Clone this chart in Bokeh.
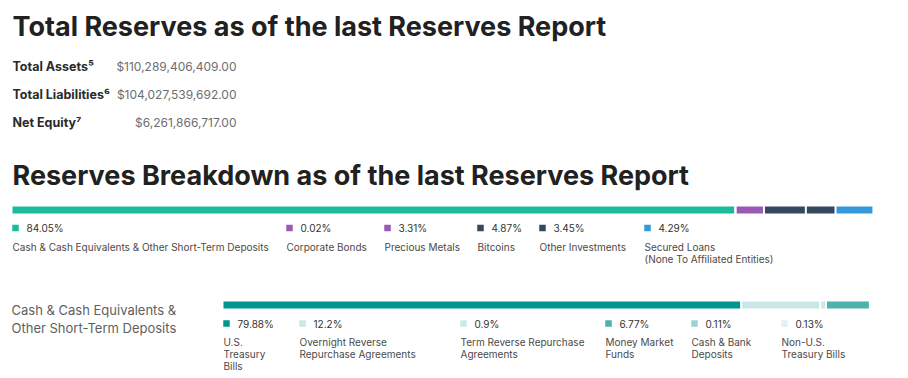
import numpy as np
from bokeh.plotting import figure
from bokeh.models import Range1d
from bokeh.core.properties import value
from bokeh.embed import file_html
from bokeh.resources import INLINE

# ---------------- data ----------------
title_main = "Total Reserves as of the last Reserves Report"
title_breakdown = "Reserves Breakdown as of the last Reserves Report"

summary_labels = ["Total Assets\u2075", "Total Liabilities\u2076", "Net Equity\u2077"]
summary_values = ["$110,289,406,409.00", "$104,027,539,692.00", "$6,261,866,717.00"]

reserve_categories = [
    "Cash & Cash Equivalents & Other Short-Term Deposits",
    "Corporate Bonds",
    "Precious Metals",
    "Bitcoins",
    "Other Investments",
    "Secured Loans\n(None To Affiliated Entities)",
]
reserve_pcts = [84.05, 0.02, 3.31, 4.87, 3.45, 4.29]

cash_title = "Cash & Cash Equivalents &\nOther Short-Term Deposits"
cash_categories = [
    "U.S.\nTreasury\nBills",
    "Overnight Reverse\nRepurchase Agreements",
    "Term Reverse Repurchase\nAgreements",
    "Money Market\nFunds",
    "Cash & Bank\nDeposits",
    "Non-U.S.\nTreasury Bills",
]
cash_pcts = [79.88, 12.2, 0.9, 6.77, 0.11, 0.13]

# ---------------- styles / layout ----------------
reserve_colors = ["#1abc9c", "#9b59b6", "#9b59b6", "#34495e", "#34495e", "#3498db"]
cash_colors = ["#00968f", "#c9e7e7", "#cce8e8", "#4db2ae", "#99d3d1", "#e0f2f2"]

FONT = value("Inter")
W, H = 906, 376
OX, OY = 0, 0  # page offset of the figure

reserve_cols = [12, 286, 384, 477, 539, 644]
cash_cols = [223, 299, 460, 605, 691, 781]

p = figure(width=W, height=H, output_backend="svg", toolbar_location=None,
           x_range=Range1d(OX, OX + W), y_range=Range1d(OY + H, OY),
           x_axis_location=None, y_axis_location=None, min_border=0,
           outline_line_color=None, background_fill_color="white",
           border_fill_color="white")
p.xgrid.visible = False
p.ygrid.visible = False


def pct_range(x0, scale):
    a = -(x0 - OX) / scale
    return Range1d(a, a + W / scale)


p.extra_x_ranges = {"top": pct_range(12, 8.6), "cash": pct_range(223, 6.48)}

# ---------------- titles ----------------
p.text(x=[12], y=[26], text=[title_main], text_font=FONT, text_font_size="27px",
       text_font_style="bold", text_color="#212121", text_baseline="alphabetic")
p.text(x=[12], y=[175], text=[title_breakdown], text_font=FONT, text_font_size="27px",
       text_font_style="bold", text_color="#212121", text_baseline="alphabetic")

# summary rows
rows_y = [66, 94, 122]
p.text(x=[12] * 3, y=rows_y, text=summary_labels, text_font=FONT, text_font_size="12.5px",
       text_font_style="bold", text_color="#2a2a2a", text_baseline="alphabetic")
p.text(x=[236] * 3, y=rows_y, text=summary_values, text_font=FONT, text_font_size="12px",
       text_color="#6e6e6e", text_baseline="alphabetic", text_align="right")


# ---------------- stacked bars ----------------
def stacked(vals, colors, rng, yc, h):
    v = np.array(vals, dtype=float)
    ends = np.cumsum(v)
    starts = ends - v
    p.hbar(y=[yc] * len(v), left=starts, right=ends, height=h, fill_color=colors,
           line_color=None, x_range_name=rng)
    p.segment(x0=ends[:-1], x1=ends[:-1], y0=[yc - h] * (len(v) - 1),
              y1=[yc + h] * (len(v) - 1), line_color="white", line_width=2,
              x_range_name=rng)


stacked(reserve_pcts, reserve_colors, "top", 209.5, 7)
stacked(cash_pcts, cash_colors, "cash", 304.5, 7)


# ---------------- legends ----------------
def legend(cols, vals, cats, colors, y_pct, y_lab, lh, fs_pct, fs_lab, lab_color):
    p.scatter(x=[c + 3 for c in cols], y=[y_pct] * len(cols), marker="square", size=6.5,
              fill_color=colors, line_color=None)
    p.text(x=[c + 14 for c in cols], y=[y_pct] * len(cols),
           text=[f"{v}%" for v in vals], text_font=FONT, text_font_size=fs_pct,
           text_color="#333333", text_baseline="middle")
    xs, ys, ts = [], [], []
    for c, cat in zip(cols, cats):
        for i, line in enumerate(cat.split("\n")):
            xs.append(c)
            ys.append(y_lab + i * lh)
            ts.append(line)
    p.text(x=xs, y=ys, text=ts, text_font=FONT, text_font_size=fs_lab,
           text_color=lab_color, text_baseline="middle")


legend(reserve_cols, reserve_pcts, reserve_categories, reserve_colors,
       227.5, 246.5, 11.5, "10px", "10px", "#4a4a4a")
legend(cash_cols, cash_pcts, cash_categories, cash_colors,
       323, 341.7, 11.7, "10px", "10px", "#4a4a4a")

# cash sub-heading
ct = cash_title.split("\n")
p.text(x=[11] * len(ct), y=[309.3 + 18 * i for i in range(len(ct))], text=ct,
       text_font=FONT, text_font_size="13px", text_color="#5f5f5f",
       text_baseline="middle")

open("out.html", "w").write(file_html(p, INLINE))
